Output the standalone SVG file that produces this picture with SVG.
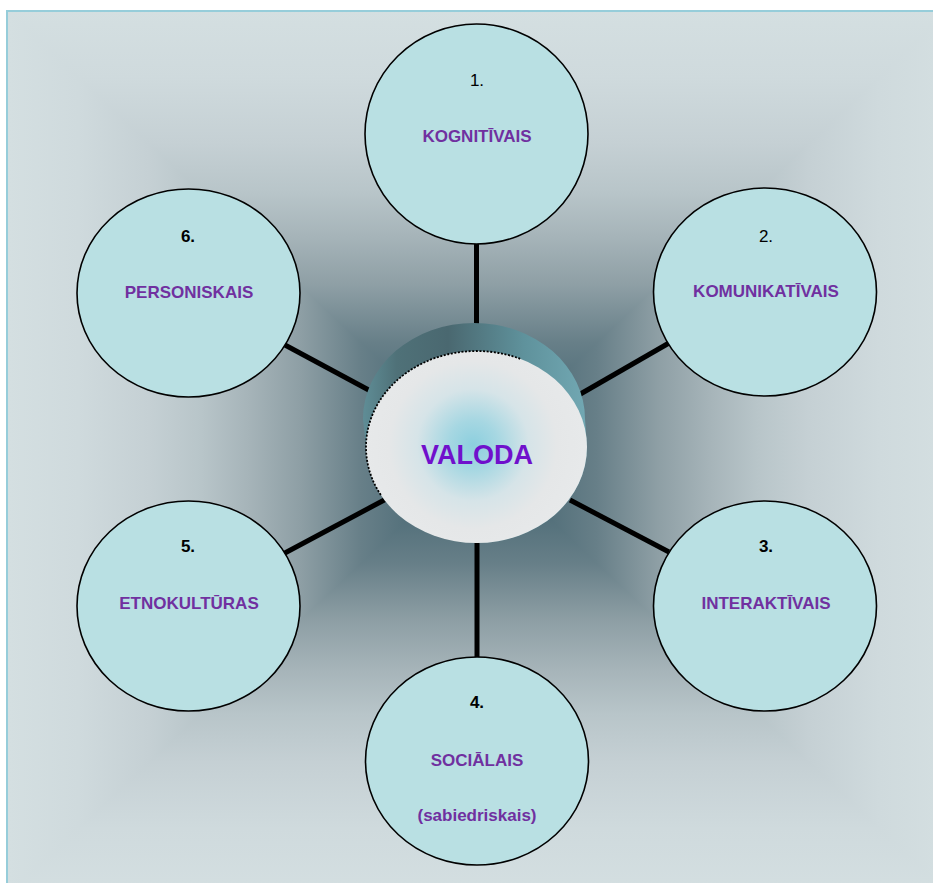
<svg xmlns="http://www.w3.org/2000/svg" xmlns:xlink="http://www.w3.org/1999/xlink" width="933" height="883" viewBox="0 0 933 883">
  <style>
    .node ellipse { fill: #b9e0e3; stroke: #000; stroke-width: 1.6; }
    .num { font-family: "Liberation Sans", Arial, sans-serif; font-size: 17px; fill: #000; text-anchor: middle; }
    .num.b { font-weight: bold; }
    .lbl { font-family: "Liberation Sans", Arial, sans-serif; font-size: 17px; font-weight: bold; fill: #7030a0; text-anchor: middle; }
    .link { stroke: #000; stroke-width: 5; stroke-linecap: butt; }
  </style>
  <defs>
    <!-- rectangular "path" fill: light at the frame edges, dark teal at the middle -->
    <linearGradient id="bgBand" gradientUnits="userSpaceOnUse" x1="8" y1="0" x2="479" y2="0">
      <stop offset="0" stop-color="#d4dfe1"/>
      <stop offset="0.15" stop-color="#cfdadd"/>
      <stop offset="0.30" stop-color="#c5d0d4"/>
      <stop offset="0.41" stop-color="#b8c5c9"/>
      <stop offset="0.51" stop-color="#a6b4b9"/>
      <stop offset="0.62" stop-color="#8e9fa5"/>
      <stop offset="0.75" stop-color="#677f88"/>
      <stop offset="0.88" stop-color="#4e6c77"/>
      <stop offset="1" stop-color="#3f5f6a"/>
    </linearGradient>
    <linearGradient id="bgLeft" xlink:href="#bgBand" x1="8" y1="0" x2="479" y2="0"/>
    <linearGradient id="bgRight" xlink:href="#bgBand" x1="950" y1="0" x2="479" y2="0"/>
    <linearGradient id="bgTop" xlink:href="#bgBand" x1="0" y1="11" x2="0" y2="453"/>
    <linearGradient id="bgBottom" xlink:href="#bgBand" x1="0" y1="895" x2="0" y2="453"/>

    <linearGradient id="drumSide" gradientUnits="userSpaceOnUse" x1="363" y1="0" x2="587" y2="0">
      <stop offset="0" stop-color="#5f8d96"/>
      <stop offset="0.15" stop-color="#4f7178"/>
      <stop offset="0.38" stop-color="#4a6870"/>
      <stop offset="0.72" stop-color="#5f929c"/>
      <stop offset="1" stop-color="#72a8b3"/>
    </linearGradient>
    <radialGradient id="drumFace" gradientUnits="userSpaceOnUse" cx="473" cy="445" r="112">
      <stop offset="0" stop-color="#8ccfde"/>
      <stop offset="0.22" stop-color="#a6d7e2"/>
      <stop offset="0.5" stop-color="#d6e4e8"/>
      <stop offset="0.75" stop-color="#e5e7e8"/>
      <stop offset="1" stop-color="#e7e9ea"/>
    </radialGradient>
  </defs>

  <!-- page background -->
  <rect x="0" y="0" width="933" height="883" fill="#ffffff"/>
  <g id="backdrop">
    <polygon points="8,11 8,895 479,453" fill="url(#bgLeft)" stroke="url(#bgLeft)" stroke-width="1.5"/>
    <polygon points="950,11 950,895 479,453" fill="url(#bgRight)" stroke="url(#bgRight)" stroke-width="1.5"/>
    <polygon points="8,11 950,11 479,453" fill="url(#bgTop)" stroke="url(#bgTop)" stroke-width="1.5"/>
    <polygon points="8,895 950,895 479,453" fill="url(#bgBottom)" stroke="url(#bgBottom)" stroke-width="1.5"/>
    <rect x="0" y="0" width="933" height="10" fill="#ffffff"/>
    <rect x="0" y="0" width="6" height="883" fill="#ffffff"/>
    <rect x="7" y="11" width="960" height="900" fill="none" stroke="#96cdda" stroke-width="2"/>
  </g>

  <!-- spokes from the centre to each circle -->
  <g id="connectors">
    <line class="link" x1="476.5" y1="238" x2="476.5" y2="335"/>
    <line class="link" x1="477" y1="540" x2="477" y2="662"/>
    <line class="link" x1="285" y1="345" x2="378" y2="395"/>
    <line class="link" x1="669" y1="343" x2="570" y2="400"/>
    <line class="link" x1="283" y1="554" x2="388" y2="498"/>
    <line class="link" x1="570" y1="500" x2="669" y2="552"/>
  </g>

  <!-- central drum -->
  <g id="valoda">
    <path d="M 363,419 A 111 96 0 0 1 585,419 L 587,447 A 110.5 96 0 0 1 366,447 Z" fill="url(#drumSide)"/>
    <ellipse cx="476.5" cy="447" rx="110.5" ry="96" fill="url(#drumFace)"/>
    <path d="M 380.8,495 A 110.5 96 0 0 1 521.4,359.3" fill="none" stroke="#000" stroke-width="1.8" stroke-dasharray="2 1.6"/>
    <text x="477" y="464" font-family="Liberation Sans, Arial, sans-serif" font-size="27" font-weight="bold" fill="#7010cc" text-anchor="middle">VALODA</text>
  </g>

  <g id="n1" class="node">
    <ellipse cx="476.5" cy="134" rx="111.5" ry="110"/>
    <text class="num" x="477" y="86">1.</text>
    <text class="lbl" x="477" y="142">KOGNITĪVAIS</text>
  </g>
  <g id="n2" class="node">
    <ellipse cx="765" cy="292" rx="111.5" ry="104"/>
    <text class="num" x="766" y="242">2.</text>
    <text class="lbl" x="766" y="297">KOMUNIKATĪVAIS</text>
  </g>
  <g id="n3" class="node">
    <ellipse cx="765" cy="606" rx="111.5" ry="105"/>
    <text class="num b" x="766" y="552">3.</text>
    <text class="lbl" x="766" y="609">INTERAKTĪVAIS</text>
  </g>
  <g id="n4" class="node">
    <ellipse cx="477" cy="761" rx="111.5" ry="104"/>
    <text class="num b" x="477" y="708">4.</text>
    <text class="lbl" x="477" y="766">SOCIĀLAIS</text>
    <text class="lbl" x="477" y="821">(sabiedriskais)</text>
  </g>
  <g id="n5" class="node">
    <ellipse cx="188.5" cy="606" rx="111.5" ry="105"/>
    <text class="num b" x="188" y="552">5.</text>
    <text class="lbl" x="189" y="609">ETNOKULTŪRAS</text>
  </g>
  <g id="n6" class="node">
    <ellipse cx="188.5" cy="293" rx="111.5" ry="104"/>
    <text class="num b" x="188" y="242">6.</text>
    <text class="lbl" x="189" y="298">PERSONISKAIS</text>
  </g>
</svg>
